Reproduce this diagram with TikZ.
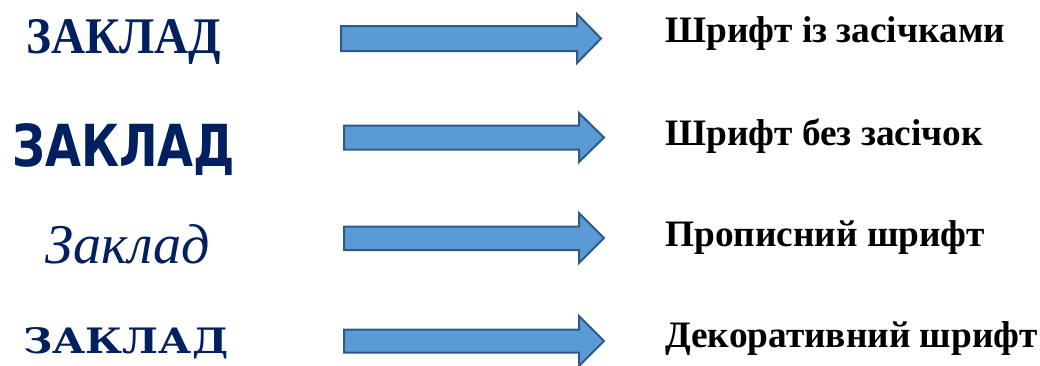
\documentclass[tikz,border=0pt]{standalone}
\usepackage{fontspec}
\usepackage{graphicx}
\setmainfont{Liberation Serif}
\newfontfamily\fserif{Liberation Serif}[BoldFont={Liberation Serif Bold}]
\newfontfamily\fsans{DejaVu Sans}[BoldFont={DejaVu Sans Bold}]
\newfontfamily\fscript{Liberation Serif Italic}
\newfontfamily\fslab{DejaVu Serif}[BoldFont={DejaVu Serif Bold}]
\newdimen\pxu \pxu=0.75pt
\definecolor{navy}{HTML}{002060}
\definecolor{arrfill}{HTML}{5B9BD5}
\definecolor{arrline}{HTML}{2E5A88}
\begin{document}
\begin{tikzpicture}[x=0.75pt,y=-0.75pt,
  word/.style={anchor=base west,inner sep=0pt,text=navy},
  lbl/.style={anchor=base west,inner sep=0pt,text=black,font=\fontsize{28}{32}\selectfont\bfseries},
  bigarrow/.style={draw=arrline,fill=arrfill,line width=1.5pt,line join=miter}]
\useasboundingbox (0,0) rectangle (1040,365);
% left words
\node[word] (w1) at (26,53) {\resizebox{195\pxu}{34\pxu}{\fserif\bfseries ЗАКЛАД}};
\node[word] (w2) at (12,166) {\resizebox{223\pxu}{43\pxu}{\fsans\bfseries ЗАКЛАД}};
\node[word] (w3) at (45,263) {\resizebox{165\pxu}{!}{\fontsize{40}{44}\fscript Заклад}};
\node[word] (w4) at (23,353) {\resizebox{205\pxu}{26\pxu}{\fslab\bfseries ЗАКЛАД}};
% arrows
\draw[bigarrow] (341,26) -- (577,26) -- (577,14) -- (601,38.5) -- (577,63) -- (577,51) -- (341,51) -- cycle;
\draw[bigarrow] (344,125.5) -- (579,125.5) -- (579,113) -- (604,137.5) -- (579,162) -- (579,149.5) -- (344,149.5) -- cycle;
\draw[bigarrow] (344,226.5) -- (579,226.5) -- (579,213) -- (604,238) -- (579,263) -- (579,250) -- (344,250) -- cycle;
\draw[bigarrow] (344,329.5) -- (579,329.5) -- (579,316) -- (604,341) -- (579,366) -- (579,352.5) -- (344,352.5) -- cycle;
% right labels
\node[lbl] (l1) at (665,42.5) {Шрифт із засічками};
\node[lbl] (l2) at (665,145) {Шрифт без засічок};
\node[lbl] (l3) at (665,246) {Прописний шрифт};
\node[lbl] (l4) at (665,347.5) {Декоративний шрифт};
\end{tikzpicture}
\end{document}
